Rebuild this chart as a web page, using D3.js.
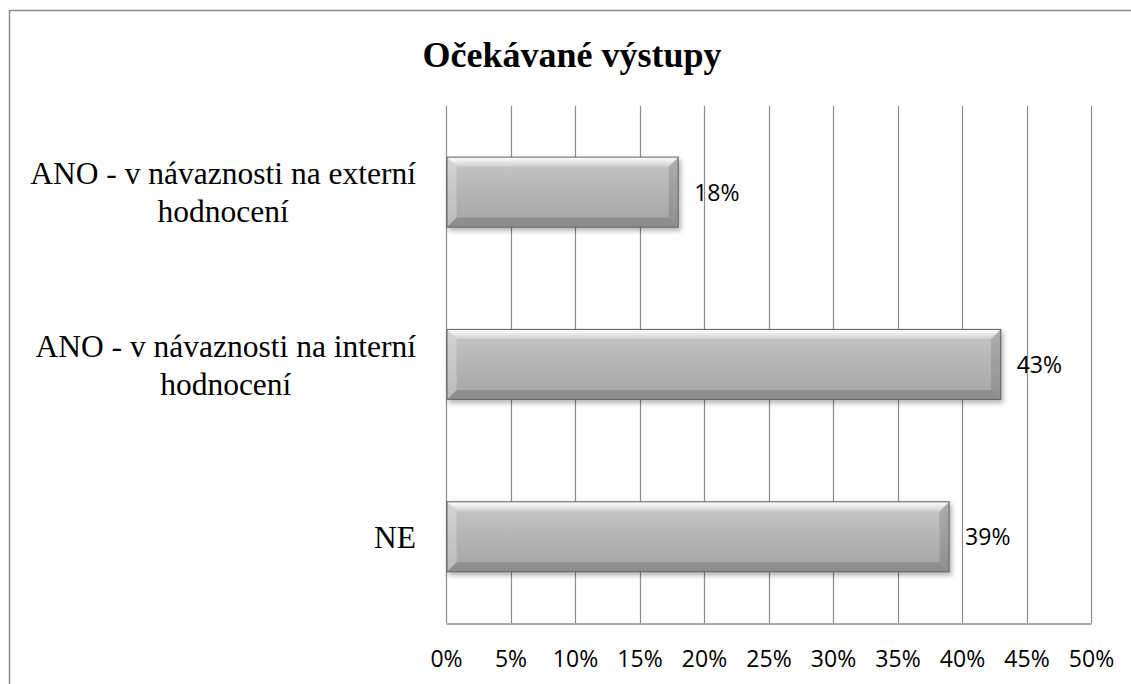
<!DOCTYPE html>
<html>
<head>
  <meta charset="utf-8">
  <title>Očekávané výstupy</title>
  <script src="https://cdn.jsdelivr.net/npm/d3@7"></script>
  <style>
    html, body { margin: 0; background: #fff; overflow: hidden; }
    svg { display: block; }
  </style>
</head>
<body>
  <div id="chart"></div>
  <script>
    const categories = [
      ["ANO - v návaznosti na externí", "hodnocení"],
      ["ANO - v návaznosti na interní", "hodnocení"],
      ["NE"]
    ];
    const values = [0.18, 0.43, 0.39];
    const tickValues = [0, 0.05, 0.1, 0.15, 0.2, 0.25, 0.3, 0.35, 0.4, 0.45, 0.5];

    const width = 1131, height = 684;
    const plot = { left: 446, right: 1091, top: 106, bottom: 623 };

    const svg = d3.select("#chart").append("svg")
      .attr("width", width)
      .attr("height", height);

    const defs = svg.append("defs");
    const grad = defs.append("linearGradient")
      .attr("id", "barFill").attr("x1", 0).attr("y1", 0).attr("x2", 0).attr("y2", 1);
    grad.append("stop").attr("offset", "0%").attr("stop-color", "#c6c6c6");
    grad.append("stop").attr("offset", "100%").attr("stop-color", "#a4a4a4");
    const topGrad = defs.append("linearGradient")
      .attr("id", "topBevel").attr("x1", 0).attr("y1", 0).attr("x2", 0).attr("y2", 1);
    topGrad.append("stop").attr("offset", "0%").attr("stop-color", "#fff").attr("stop-opacity", 0.95);
    topGrad.append("stop").attr("offset", "100%").attr("stop-color", "#fff").attr("stop-opacity", 0.2);
    const shadow = defs.append("filter").attr("id", "shadow")
      .attr("x", "-5%").attr("y", "-20%").attr("width", "115%").attr("height", "150%");
    shadow.append("feDropShadow").attr("dx", 2).attr("dy", 3).attr("stdDeviation", 2.5)
      .attr("flood-color", "#000").attr("flood-opacity", 0.3);

    // outer frame (right and bottom edges lie outside the window)
    svg.append("rect")
      .attr("x", 9.5).attr("y", 10.5)
      .attr("width", width + 40).attr("height", height + 40)
      .attr("fill", "none").attr("stroke", "#8c8c8c").attr("stroke-width", 1.5);

    svg.append("text")
      .attr("x", 572).attr("y", 67)
      .attr("text-anchor", "middle")
      .style("font", "bold 36px 'Liberation Serif', 'Times New Roman', serif")
      .text("Očekávané výstupy");

    const x = d3.scaleLinear().domain([0, 0.5]).range([plot.left, plot.right]);
    const y = d3.scaleBand().domain(d3.range(categories.length))
      .range([plot.top, plot.bottom]).paddingInner(0.594).paddingOuter(0.297);

    // gridlines
    svg.append("g")
      .selectAll("line")
      .data(tickValues)
      .join("line")
      .attr("x1", d => Math.round(x(d)) + 0.5)
      .attr("x2", d => Math.round(x(d)) + 0.5)
      .attr("y1", plot.top)
      .attr("y2", plot.bottom)
      .attr("stroke", "#8c8c8c")
      .attr("stroke-width", 1.2);

    // x axis
    const xAxis = svg.append("g")
      .attr("transform", `translate(0,${plot.bottom + 0.5})`)
      .call(d3.axisBottom(x).tickValues(tickValues).tickSize(0).tickPadding(27)
        .tickFormat(d3.format(".0%")));
    xAxis.select(".domain").attr("stroke", "#8c8c8c").attr("stroke-width", 1.5);
    xAxis.selectAll("text")
      .attr("fill", "#000")
      .style("font", "23px 'Open Sans', 'Noto Sans', sans-serif");

    // bars
    const bars = svg.append("g")
      .selectAll("g")
      .data(values)
      .join("g");

    bars.append("rect")
      .attr("x", x(0) + 1)
      .attr("y", (d, i) => y(i))
      .attr("width", d => x(d) - x(0) - 1)
      .attr("height", y.bandwidth())
      .attr("fill", "url(#barFill)")
      .attr("stroke", "#6a6a6a")
      .attr("stroke-width", 1.2)
      .attr("filter", "url(#shadow)");

    // soft bevel
    const bev = 9;
    const box = (d, i) => ({
      x0: x(0) + 1.6, x1: x(d) - 0.6,
      y0: y(i) + 0.6, y1: y(i) + y.bandwidth() - 0.6
    });
    bars.append("path")
      .attr("d", (d, i) => {
        const b = box(d, i);
        return `M${b.x0},${b.y0}L${b.x1},${b.y0}L${b.x1 - bev},${b.y0 + bev}L${b.x0 + bev},${b.y0 + bev}Z`;
      })
      .attr("fill", "url(#topBevel)");
    bars.append("path")
      .attr("d", (d, i) => {
        const b = box(d, i);
        return `M${b.x0},${b.y0}L${b.x0 + bev},${b.y0 + bev}L${b.x0 + bev},${b.y1 - bev}L${b.x0},${b.y1}Z`;
      })
      .attr("fill", "#fff").attr("opacity", 0.25);
    bars.append("path")
      .attr("d", (d, i) => {
        const b = box(d, i);
        return `M${b.x1},${b.y0}L${b.x1 - bev},${b.y0 + bev}L${b.x1 - bev},${b.y1 - bev}L${b.x1},${b.y1}Z`;
      })
      .attr("fill", "#000").attr("opacity", 0.12);
    bars.append("path")
      .attr("d", (d, i) => {
        const b = box(d, i);
        return `M${b.x0},${b.y1}L${b.x0 + bev},${b.y1 - bev}L${b.x1 - bev},${b.y1 - bev}L${b.x1},${b.y1}Z`;
      })
      .attr("fill", "#000").attr("opacity", 0.15);

    // value labels
    bars.append("text")
      .attr("x", d => x(d) + 16)
      .attr("y", (d, i) => y(i) + y.bandwidth() / 2)
      .attr("dy", "0.37em")
      .style("font", "23px 'Open Sans', 'Noto Sans', sans-serif")
      .text(d3.format(".0%"));

    // category labels, each centred on its widest line, right edge at 416
    const labelRight = 416, lineH = 38;
    categories.forEach((lines, i) => {
      const g = svg.append("text")
        .attr("text-anchor", "middle")
        .style("font", "31.5px 'Liberation Serif', 'Times New Roman', serif");
      const cy = y(i) + y.bandwidth() / 2;
      const tspans = lines.map((t, k) => g.append("tspan")
        .attr("y", cy + (k - (lines.length - 1) / 2) * lineH)
        .attr("dy", "0.35em")
        .text(t));
      const w = d3.max(tspans, s => s.node().getComputedTextLength());
      tspans.forEach(s => s.attr("x", labelRight - w / 2));
    });
  </script>
</body>
</html>
